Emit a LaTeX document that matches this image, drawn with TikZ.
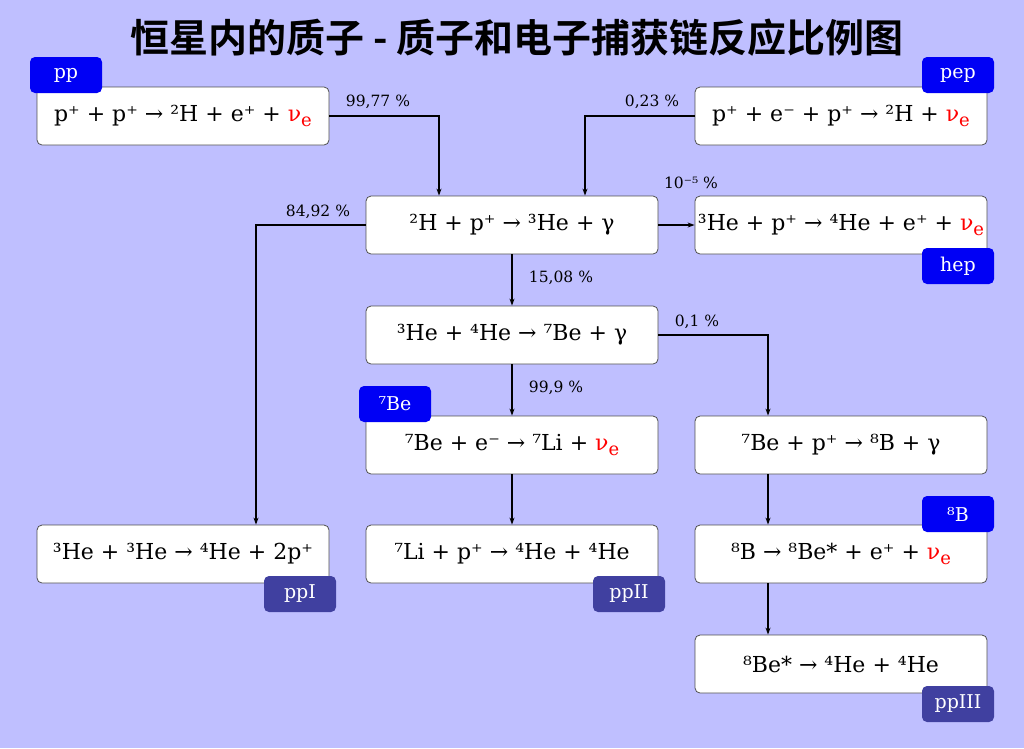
\documentclass[tikz,border=0pt]{standalone}
\usepackage{fontspec}
\setmainfont{DejaVu Serif}
\newfontfamily\cjk{Noto Sans CJK SC Bold}
\usetikzlibrary{arrows.meta}
\definecolor{bg}{RGB}{191,191,255}
\definecolor{tagblue}{RGB}{0,0,245}
\definecolor{tagdark}{RGB}{64,64,160}
\definecolor{boxline}{RGB}{80,80,80}
\newcommand{\nue}{\textcolor{red}{ν\raisebox{-0.45ex}{\fontsize{18}{20}\selectfont e}}}
\tikzset{
  rbox/.style={draw=boxline, line width=0.8pt, fill=white, rounded corners=5pt,
    minimum width=292pt, minimum height=58pt, inner sep=0pt, font=\fontsize{22}{26}\selectfont},
  tagb/.style={fill=tagblue, rounded corners=5pt, minimum width=72pt, minimum height=36pt,
    inner sep=0pt, text=white, font=\fontsize{19}{22}\selectfont},
  tagd/.style={tagb, fill=tagdark},
  arr/.style={line width=1.4pt, -{Stealth[length=7pt,width=5pt]}},
  lab/.style={font=\fontsize{15.5}{18}\selectfont, inner sep=0pt}
}
\begin{document}
\begin{tikzpicture}[x=1pt,y=-1pt]
\fill[bg] (0,0) rectangle (1024,748);
\useasboundingbox (0,0) rectangle (1024,748);
\node[font=\cjk\fontsize{39}{42}\selectfont] (title) at (517,38) {恒星内的质子 - 质子和电子捕获链反应比例图};

\node[rbox] (pp) at (183,116) {p⁺ + p⁺ → ²H + e⁺ + \nue};
\node[rbox] (pep) at (841,116) {p⁺ + e⁻ + p⁺ → ²H + \nue};
\node[rbox] (D) at (512,225) {²H + p⁺ → ³He + γ};
\node[rbox] (hep) at (841,225) {³He + p⁺ → ⁴He + e⁺ + \nue};
\node[rbox] (he34) at (512,335) {³He + ⁴He → ⁷Be + γ};
\node[rbox] (be7e) at (512,445) {⁷Be + e⁻ → ⁷Li + \nue};
\node[rbox] (be7p) at (841,445) {⁷Be + p⁺ → ⁸B + γ};
\node[rbox] (ppI) at (183,554) {³He + ³He → ⁴He + 2p⁺};
\node[rbox] (ppII) at (512,554) {⁷Li + p⁺ → ⁴He + ⁴He};
\node[rbox] (b8) at (841,554) {⁸B → ⁸Be* + e⁺ + \nue};
\node[rbox] (ppIII) at (841,664) {⁸Be* → ⁴He + ⁴He};

\node[tagb] (tpp) at (66,75) {pp};
\node[tagb] (tpep) at (958,75) {pep};
\node[tagb] (thep) at (958,266) {hep};
\node[tagb] (tbe7) at (395,404) {⁷Be};
\node[tagb] (tb8) at (958,514) {⁸B};
\node[tagd] (tppI) at (300,594) {ppI};
\node[tagd] (tppII) at (629,594) {ppII};
\node[tagd] (tppIII) at (958,704) {ppIII};

\draw[arr] (pp.east) -| ([xshift=-73pt]D.north);
\draw[arr] (pep.west) -| ([xshift=73pt]D.north);
\draw[arr] (D.west) -| ([xshift=73pt]ppI.north);
\draw[arr] (D.east) -- (hep.west);
\draw[arr] (D.south) -- (he34.north);
\draw[arr] (he34.east) -| ([xshift=-73pt]be7p.north);
\draw[arr] (he34.south) -- (be7e.north);
\draw[arr] (be7e.south) -- (ppII.north);
\draw[arr] ([xshift=-73pt]be7p.south) -- ([xshift=-73pt]b8.north);
\draw[arr] ([xshift=-73pt]b8.south) -- ([xshift=-73pt]ppIII.north);

\node[lab] (l1) at (378,102) {99,77 \%};
\node[lab] (l2) at (652,102) {0,23 \%};
\node[lab] (l3) at (318,212) {84,92 \%};
\node[lab] (l4) at (691,183) {10⁻⁵ \%};
\node[lab] (l5) at (561,278) {15,08 \%};
\node[lab] (l6) at (697,322) {0,1 \%};
\node[lab] (l7) at (556,388) {99,9 \%};
\end{tikzpicture}
\end{document}
